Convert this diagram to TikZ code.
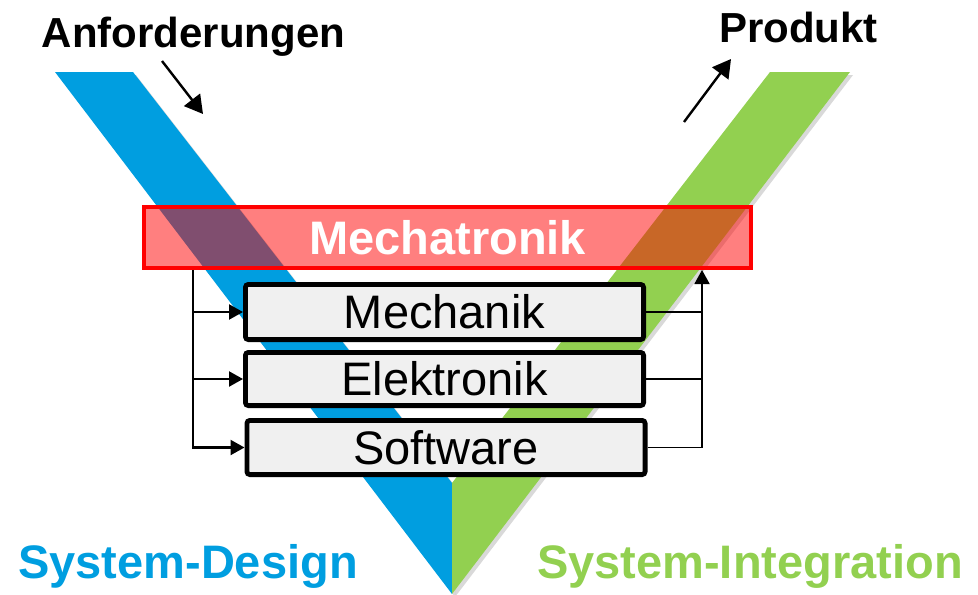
\documentclass[tikz,border=0pt]{standalone}
\usepackage{fontspec}
\setmainfont{Liberation Sans}
\usetikzlibrary{shapes,arrows.meta,positioning,shadows}
\definecolor{vblue}{RGB}{0,158,224}
\definecolor{vgreen}{RGB}{146,208,80}

\begin{document}
\begin{tikzpicture}[x=0.5pt,y=-0.5pt,
    iotext/.style={font=\fontsize{21}{25}\selectfont\bfseries, anchor=base, inner sep=0pt},
    phasetext/.style={font=\fontsize{23.5}{28}\selectfont\bfseries, anchor=base, inner sep=0pt},
    discbox/.style={draw=black, line width=2.4pt, fill=black!6, rounded corners=1.5pt, minimum width=199.1pt, font=\fontsize{23.5}{28}\selectfont, inner sep=0pt},
    vshadow/.style={drop shadow={opacity=0.3, shadow xshift=1.5pt, shadow yshift=-1.5pt}},
    busarrow/.style={line width=1.1pt, -{Triangle[length=7pt,width=7.5pt]}},
    busline/.style={line width=0.8pt},
    ioarrow/.style={line width=1.2pt, -{Triangle[length=9pt,width=10pt]}}]
    \useasboundingbox (0,0) rectangle (978,594);

    % V-Modell
    \fill[vblue, vshadow] (55,72) -- (133,72) -- (452,483) -- (452,594) -- cycle;
    \fill[vgreen, vshadow] (770,72) -- (850,72) -- (452,594) -- (452,483) -- cycle;

    % Mechatronik
    \node[draw=red, line width=2pt, fill=red, fill opacity=0.5, text opacity=1, text=white,
        minimum width=303.5pt, minimum height=30.5pt, inner sep=0pt,
        font=\fontsize{23.5}{28}\selectfont\bfseries] (mecha) at (447.5,237.5) {Mechatronik};

    % Disziplinen
    \node[discbox, minimum height=27.6pt] (mech) at (444.5,312) {Mechanik};
    \node[discbox, minimum height=26.6pt] (elek) at (444.5,379) {Elektronik};
    \node[discbox, minimum height=27.1pt] (soft) at (446,447.5) {Software};

    % Verbindungen
    \coordinate (lbus) at (193,270);
    \coordinate (rbus) at (702,270);
    \draw[busarrow] (lbus) |- (soft.west);
    \draw[busarrow] (lbus |- mech.west) -- (mech.west);
    \draw[busarrow] (lbus |- elek.west) -- (elek.west);
    \draw[busline] (mech.east) -- (mech.east -| rbus);
    \draw[busline] (elek.east) -- (elek.east -| rbus);
    \draw[busarrow, line width=0.9pt] (soft.east) -| (rbus);

    % Ein- und Ausgang
    \node[iotext] (anf) at (193.5,47) {Anforderungen};
    \node[iotext] (prod) at (798.5,42) {Produkt};
    \coordinate (anfA) at (162,61);
    \coordinate (anfB) at (203,114);
    \coordinate (prodA) at (684,122);
    \coordinate (prodB) at (731,59);
    \draw[ioarrow] (anfA) -- (anfB);
    \draw[ioarrow] (prodA) -- (prodB);

    % Phasen
    \node[phasetext, text=vblue] (design) at (188,578) {System-Design};
    \node[phasetext, text=vgreen] (integ) at (750,578) {System-Integration};
\end{tikzpicture}
\end{document}
